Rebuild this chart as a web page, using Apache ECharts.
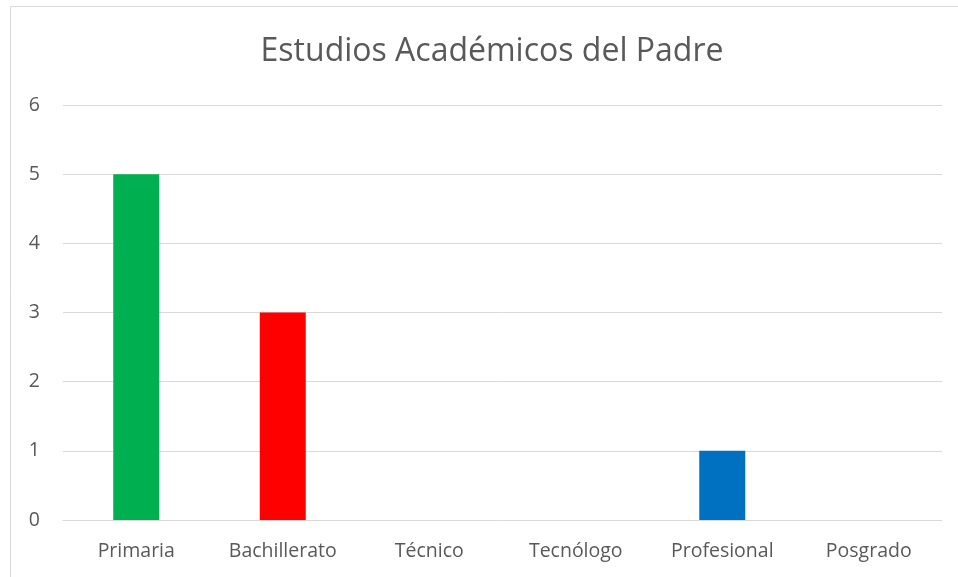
<!DOCTYPE html>
<html>
<head>
<meta charset="utf-8">
<script src="https://cdn.jsdelivr.net/npm/echarts@6/dist/echarts.min.js"></script>
<style>
  html, body { margin: 0; padding: 0; background: #fff; overflow: hidden; }
  #chart { width: 958px; height: 577px; }
</style>
</head>
<body>
<div id="chart"></div>
<script>
const categories = ['Primaria', 'Bachillerato', 'Técnico', 'Tecnólogo', 'Profesional', 'Posgrado']
const values = [5, 3, 0, 0, 1, 0]
const barColors = ['#00b050', '#ff0000', '#ffc000', '#7030a0', '#0070c0', '#002060']
const yTicks = [0, 1, 2, 3, 4, 5, 6]

const chart = echarts.init(document.getElementById('chart'))

const textColor = '#595959'
const font = '"Open Sans", "Noto Sans", sans-serif'

chart.setOption({
  animation: false,
  title: {
    text: 'Estudios Académicos del Padre',
    left: 487,
    top: 31,
    textAlign: 'center',
    textStyle: { color: textColor, fontSize: 32, fontWeight: 'normal', fontFamily: font },
  },
  graphic: [
    {
      type: 'rect',
      shape: { x: 10.5, y: 6.5, width: 960, height: 600 },
      style: { fill: 'none', stroke: '#d9d9d9', lineWidth: 1 },
      silent: true,
    },
  ],
  grid: { left: 63, right: 16, top: 105, bottom: 57 },
  xAxis: {
    type: 'category',
    data: categories,
    axisLine: { lineStyle: { color: '#d9d9d9' } },
    axisTick: { show: false },
    axisLabel: { color: textColor, fontSize: 19.5, fontFamily: font, margin: 21 },
  },
  yAxis: {
    type: 'value',
    min: yTicks[0],
    max: yTicks[yTicks.length - 1],
    interval: 1,
    axisLine: { show: false },
    axisTick: { show: false },
    splitLine: { lineStyle: { color: '#d9d9d9' } },
    axisLabel: { color: textColor, fontSize: 19.5, fontFamily: font, margin: 23 },
  },
  series: [
    {
      type: 'bar',
      data: values.map((v, i) => ({ value: v, itemStyle: { color: barColors[i] } })),
      barWidth: 46,
    },
  ],
})
</script>
</body>
</html>
